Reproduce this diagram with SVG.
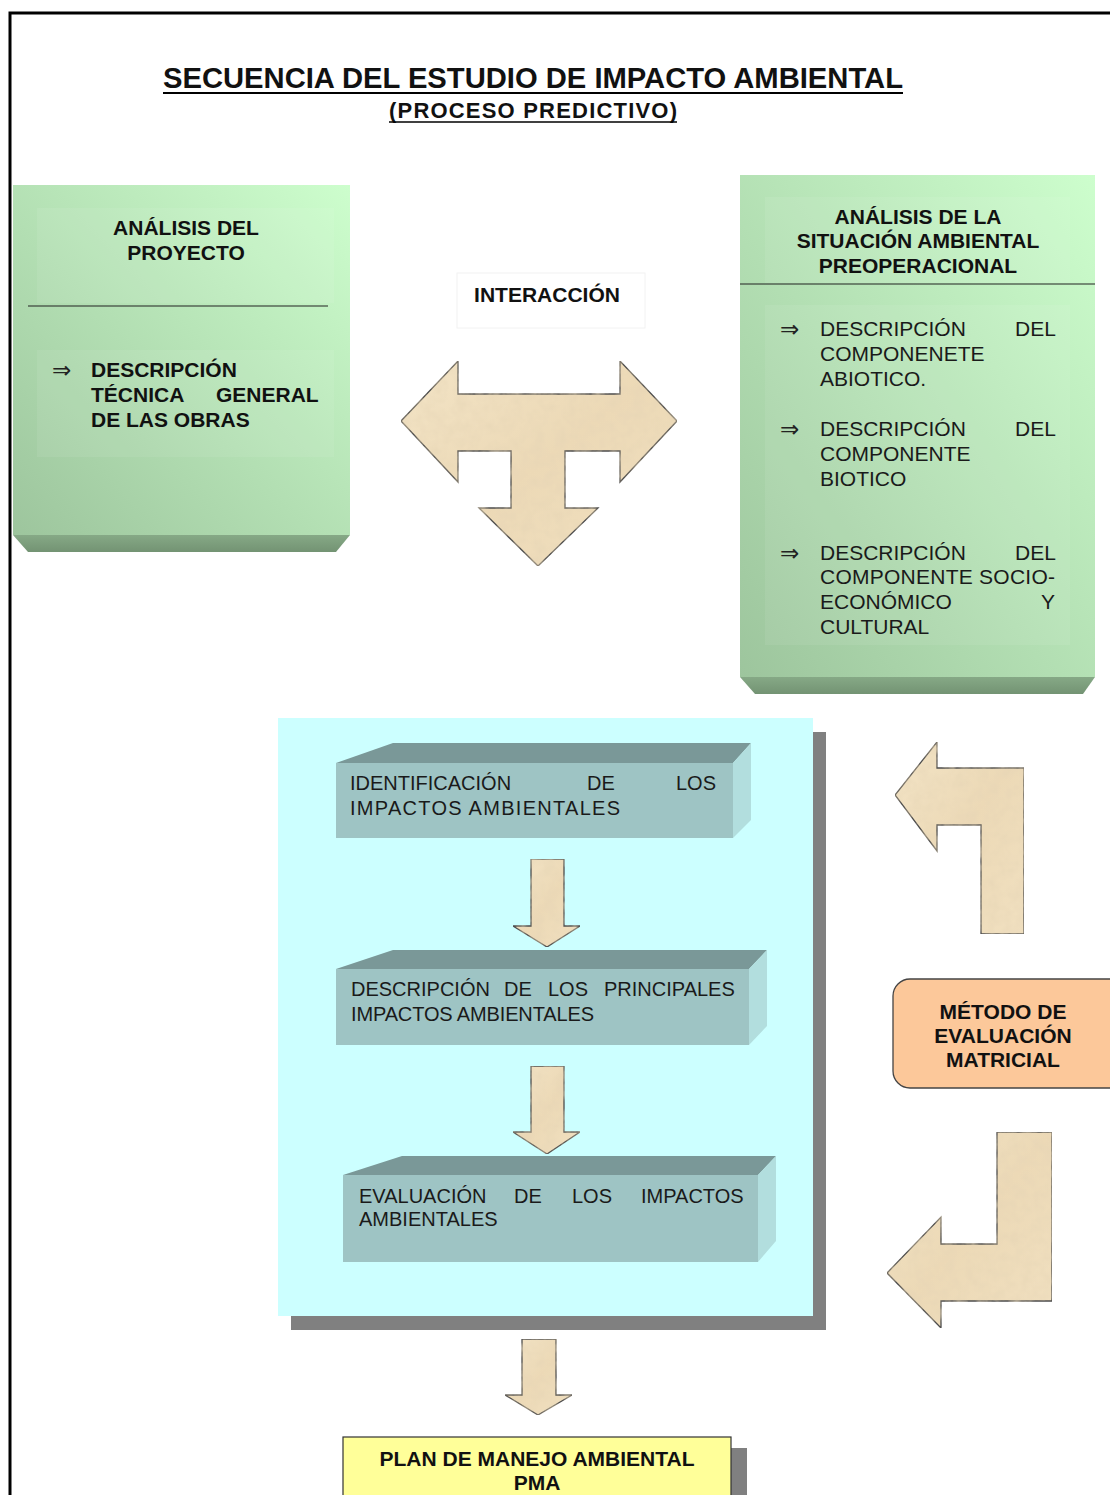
<svg xmlns="http://www.w3.org/2000/svg" width="1110" height="1495" viewBox="0 0 1110 1495">
  <style>
    .b { font-family: "Liberation Sans", Arial, sans-serif; font-weight: bold; font-size: 21px; fill: #111; }
    .r { font-family: "Liberation Sans", Arial, sans-serif; font-size: 21px; fill: #1a1a1a; }
    .s { font-family: "Liberation Sans", Arial, sans-serif; font-size: 20px; fill: #1a1a1a; }
    .ar { font-family: "DejaVu Sans", sans-serif; font-size: 23px; fill: #222; }
    .c { text-anchor: middle; }
    .beige { fill: url(#beigeGrad); stroke: #4d4d4d; stroke-width: 1.3; stroke-linejoin: miter; }
    .front { fill: #9ec4c4; }
    .top { fill: #7a9898; }
    .side { fill: #b2dede; }
    .panel { fill: #ffffff; fill-opacity: 0.07; }
  </style>
  <defs>
    <linearGradient id="greenGrad" x1="1" y1="0" x2="0" y2="1">
      <stop offset="0" stop-color="#cdfecd"/>
      <stop offset="1" stop-color="#9dc59d"/>
    </linearGradient>
    <linearGradient id="bevelGrad" x1="0" y1="0" x2="0" y2="1">
      <stop offset="0" stop-color="#86a986"/>
      <stop offset="1" stop-color="#739373"/>
    </linearGradient>
    <linearGradient id="beigeGrad" x1="0" y1="0" x2="1" y2="1">
      <stop offset="0" stop-color="#f3e4c6"/>
      <stop offset="0.5" stop-color="#ecd9b6"/>
      <stop offset="1" stop-color="#f1e0c0"/>
    </linearGradient>
    <!-- mottled parchment look for the block arrows -->
    <filter id="paper" x="0" y="0" width="1" height="1">
      <feTurbulence type="fractalNoise" baseFrequency="0.09" numOctaves="3" seed="4" result="n"/>
      <feColorMatrix in="n" type="matrix" values="0 0 0 0 0.78  0 0 0 0 0.66  0 0 0 0 0.46  0.9 0 0 0 -0.3" result="spots"/>
      <feComposite in="spots" in2="SourceGraphic" operator="atop"/>
    </filter>
  </defs>

  <rect x="0" y="0" width="1110" height="1495" fill="#ffffff"/>

  <!-- page frame -->
  <path d="M10 1495 V13 H1110" fill="none" stroke="#000" stroke-width="3"/>

  <!-- heading -->
  <g id="title">
    <text class="b c" x="533" y="88" style="font-size:29px" textLength="740" lengthAdjust="spacingAndGlyphs">SECUENCIA DEL ESTUDIO DE IMPACTO AMBIENTAL</text>
    <line x1="163" y1="93" x2="903" y2="93" stroke="#000" stroke-width="2"/>
    <text class="b c" x="533" y="118" style="font-size:22px" textLength="288" lengthAdjust="spacing">(PROCESO PREDICTIVO)</text>
    <line x1="389" y1="122" x2="677" y2="122" stroke="#000" stroke-width="1.5"/>
  </g>

  <!-- project analysis -->
  <g id="analisis-proyecto">
    <rect x="13" y="185" width="337" height="350" fill="url(#greenGrad)"/>
    <polygon points="13,535 350,535 336,552 28,552" fill="url(#bevelGrad)"/>
    <rect class="panel" x="37" y="208" width="297" height="95"/>
    <line x1="28" y1="306" x2="328" y2="306" stroke="#222" stroke-width="1.2"/>
    <rect class="panel" x="37" y="350" width="297" height="107"/>
    <text class="b c" x="186" y="235">ANÁLISIS DEL</text>
    <text class="b c" x="186" y="260">PROYECTO</text>
    <text class="ar" x="52" y="378">⇒</text>
    <text class="b" x="91" y="377">DESCRIPCIÓN</text>
    <text class="b" y="402"><tspan x="91">TÉCNICA</tspan><tspan x="216">GENERAL</tspan></text>
    <text class="b" x="91" y="427">DE LAS OBRAS</text>
  </g>

  <!-- baseline environmental situation -->
  <g id="analisis-situacion">
    <rect x="740" y="175" width="355" height="502" fill="url(#greenGrad)"/>
    <polygon points="740,677 1095,677 1083,694 755,694" fill="url(#bevelGrad)"/>
    <rect class="panel" x="765" y="197" width="305" height="86"/>
    <line x1="740" y1="284" x2="1095" y2="284" stroke="#222" stroke-width="1.2"/>
    <rect class="panel" x="765" y="305" width="305" height="340"/>
    <text class="b c" x="918" y="224">ANÁLISIS DE LA</text>
    <text class="b c" x="918" y="248">SITUACIÓN AMBIENTAL</text>
    <text class="b c" x="918" y="273">PREOPERACIONAL</text>

    <text class="ar" x="780" y="337">⇒</text>
    <text class="r" y="336"><tspan x="820">DESCRIPCIÓN</tspan><tspan x="1015">DEL</tspan></text>
    <text class="r" x="820" y="361">COMPONENETE</text>
    <text class="r" x="820" y="386">ABIOTICO.</text>

    <text class="ar" x="780" y="437">⇒</text>
    <text class="r" y="436"><tspan x="820">DESCRIPCIÓN</tspan><tspan x="1015">DEL</tspan></text>
    <text class="r" x="820" y="461">COMPONENTE</text>
    <text class="r" x="820" y="486">BIOTICO</text>

    <text class="ar" x="780" y="561">⇒</text>
    <text class="r" y="560"><tspan x="820">DESCRIPCIÓN</tspan><tspan x="1015">DEL</tspan></text>
    <text class="r" x="820" y="584" textLength="235" lengthAdjust="spacing">COMPONENTE SOCIO-</text>
    <text class="r" y="609"><tspan x="820">ECONÓMICO</tspan><tspan x="1041">Y</tspan></text>
    <text class="r" x="820" y="634">CULTURAL</text>
  </g>

  <!-- interaction label -->
  <g id="interaccion">
    <rect x="457" y="273" width="188" height="55" fill="#ffffff" stroke="#f2f2f2" stroke-width="1"/>
    <text class="b c" x="547" y="302">INTERACCIÓN</text>
  </g>

  <!-- predictive process panel -->
  <g id="proceso">
    <rect x="291" y="732" width="535" height="598" fill="#808080"/>
    <rect x="278" y="718" width="535" height="598" fill="#ccffff"/>
  </g>

  <g id="identificacion">
    <polygon class="top" points="336,763 393,743 751,743 733,763"/>
    <polygon class="side" points="733,763 751,743 751,820 733,838"/>
    <rect class="front" x="336" y="763" width="397" height="75"/>
    <text class="s" y="790"><tspan x="350">IDENTIFICACIÓN</tspan><tspan x="587">DE</tspan><tspan x="676">LOS</tspan></text>
    <text class="s" x="350" y="815" textLength="270" lengthAdjust="spacing">IMPACTOS AMBIENTALES</text>
  </g>

  <g id="descripcion">
    <polygon class="top" points="336,969 393,950 767,950 749,969"/>
    <polygon class="side" points="749,969 767,950 767,1026 749,1045"/>
    <rect class="front" x="336" y="969" width="413" height="76"/>
    <text class="s" y="996"><tspan x="351">DESCRIPCIÓN</tspan><tspan x="504">DE</tspan><tspan x="548">LOS</tspan><tspan x="604">PRINCIPALES</tspan></text>
    <text class="s" x="351" y="1021" textLength="243" lengthAdjust="spacing">IMPACTOS AMBIENTALES</text>
  </g>

  <g id="evaluacion">
    <polygon class="top" points="343,1175 402,1156 776,1156 758,1175"/>
    <polygon class="side" points="758,1175 776,1156 776,1241 758,1262"/>
    <rect class="front" x="343" y="1175" width="415" height="87"/>
    <text class="s" y="1203"><tspan x="359">EVALUACIÓN</tspan><tspan x="514">DE</tspan><tspan x="572">LOS</tspan><tspan x="641">IMPACTOS</tspan></text>
    <text class="s" x="359" y="1226">AMBIENTALES</text>
  </g>

  <!-- matrix evaluation method -->
  <g id="metodo">
    <rect x="893" y="979" width="240" height="109" rx="17" fill="#fcc89a" stroke="#444" stroke-width="1.3"/>
    <text class="b c" x="1003" y="1019">MÉTODO DE</text>
    <text class="b c" x="1003" y="1043">EVALUACIÓN</text>
    <text class="b c" x="1003" y="1067">MATRICIAL</text>
  </g>

  <!-- environmental management plan -->
  <g id="pma">
    <rect x="731" y="1448" width="16" height="60" fill="#808080"/>
    <rect x="343" y="1437" width="388" height="70" fill="#ffff99" stroke="#333" stroke-width="1.2"/>
    <text class="b c" x="537" y="1466">PLAN DE MANEJO AMBIENTAL</text>
    <text class="b c" x="537" y="1490">PMA</text>
  </g>

  <!-- block arrows -->
  <g id="connectors">
    <polygon class="beige" filter="url(#paper)" points="401,421 458,361 458,394 620,394 620,361 677,421 620,482 620,451 565,451 565,508 598,508 538,566 479,508 511,508 511,451 458,451 458,482"/>
    <polygon class="beige" filter="url(#paper)" points="531,859 564,859 564,926 580,926 547,947 513,926 531,926"/>
    <polygon class="beige" filter="url(#paper)" points="531,1066 564,1066 564,1132 580,1132 547,1154 513,1132 531,1132"/>
    <polygon class="beige" filter="url(#paper)" points="522,1339 556,1339 556,1395 572,1395 538,1415 505,1395 522,1395"/>
    <polygon class="beige" filter="url(#paper)" points="895,795 937,742 937,768 1024,768 1024,934 981,934 981,825 937,825 937,851"/>
    <polygon class="beige" filter="url(#paper)" points="887,1273 941,1217 941,1244 997,1244 997,1132 1052,1132 1052,1301 941,1301 941,1328"/>
  </g>
</svg>
